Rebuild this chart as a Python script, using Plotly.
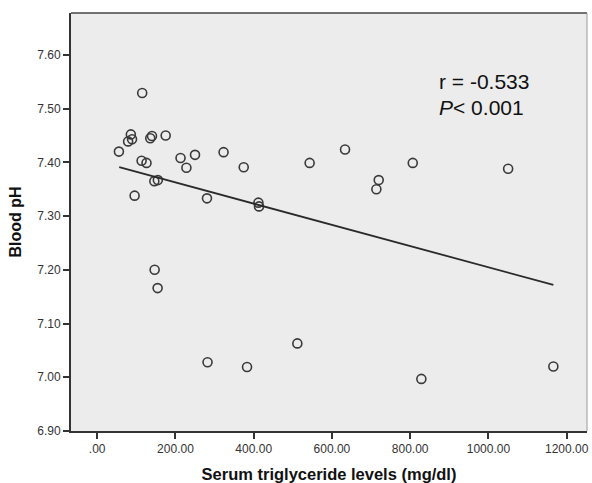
import plotly.graph_objects as go

# Data
triglyceride = [55.5, 115, 86, 79, 89, 113.5, 126, 95.6, 140, 135.6, 175, 146, 155,
                213, 228, 250, 280.6, 323, 374.5, 412, 413.6, 543,
                146.8, 154.4, 282, 383, 511.6,
                633.5, 719.6, 713.6, 806.6, 1050.4,
                828.6, 1166]
blood_ph = [7.420, 7.529, 7.452, 7.439, 7.443, 7.403, 7.399, 7.338, 7.449, 7.445, 7.450, 7.365, 7.367,
            7.408, 7.390, 7.414, 7.333, 7.419, 7.391, 7.325, 7.318, 7.399,
            7.200, 7.166, 7.028, 7.019, 7.063,
            7.424, 7.367, 7.350, 7.399, 7.388,
            6.997, 7.020]

fit_x = [56.3, 1166]
fit_y = [7.391, 7.172]

x_tickvals = [0, 200, 400, 600, 800, 1000, 1200]
x_ticktext = [".00", "200.00", "400.00", "600.00", "800.00", "1000.00", "1200.00"]
y_tickvals = [6.9, 7.0, 7.1, 7.2, 7.3, 7.4, 7.5, 7.6]
y_ticktext = ["6.90", "7.00", "7.10", "7.20", "7.30", "7.40", "7.50", "7.60"]

fig = go.Figure()
fig.add_trace(go.Scatter(
    x=triglyceride, y=blood_ph, mode="markers",
    marker=dict(symbol="circle-open", size=9, color="#3a3a3a", line=dict(width=1.6, color="#3a3a3a")),
    showlegend=False, hoverinfo="x+y"))
fig.add_trace(go.Scatter(
    x=fit_x, y=fit_y, mode="lines",
    line=dict(color="#2a2a2a", width=1.8), showlegend=False, hoverinfo="skip"))

font_main = "Liberation Sans, Arial, sans-serif"

fig.update_layout(
    width=592, height=483,
    margin=dict(l=71, r=5, t=13, b=52, autoexpand=False),
    paper_bgcolor="white", plot_bgcolor="#ececec",
    font=dict(family=font_main, color="#333333", size=12),
    xaxis=dict(range=[-67, 1252], tickvals=x_tickvals, ticktext=x_ticktext,
               showgrid=False, zeroline=False, automargin=False,
               showline=True, linecolor="#333333", linewidth=2, mirror=False,
               ticks="outside", ticklen=6, tickwidth=1.5, tickcolor="#333333",
               tickfont=dict(size=12, color="#333333"),
               title=dict(text="<b>Serum triglyceride levels (mg/dl)</b>",
                          font=dict(size=16.5, color="#111111"), standoff=14)),
    yaxis=dict(range=[6.90, 7.678], tickvals=y_tickvals, ticktext=y_ticktext,
               showgrid=False, zeroline=False, automargin=False,
               showline=True, linecolor="#333333", linewidth=2, mirror=False,
               ticks="outside", ticklen=6, tickwidth=1.5, tickcolor="#333333",
               tickfont=dict(size=12, color="#333333"),
               title=dict(text="<b>Blood pH</b>", font=dict(size=16, color="#111111"), standoff=12)),
)

# top and right frame
fig.add_shape(type="line", xref="paper", yref="paper", x0=0, x1=1, y0=1, y1=1,
              line=dict(color="#444444", width=1.5))
fig.add_shape(type="line", xref="paper", yref="paper", x0=1, x1=1, y0=0, y1=1,
              line=dict(color="#9a9a9a", width=1))

fig.add_annotation(x=869, y=7.55, xref="x", yref="y", text="r = -0.533",
                   showarrow=False, xanchor="left", yanchor="middle",
                   font=dict(size=21, color="#111111", family=font_main))
fig.add_annotation(x=869, y=7.503, xref="x", yref="y", text="<i>P</i>< 0.001",
                   showarrow=False, xanchor="left", yanchor="middle",
                   font=dict(size=21, color="#111111", family=font_main))

fig.write_html("out.html", config={"displayModeBar": False},
               post_script="document.body.style.margin='0';")
